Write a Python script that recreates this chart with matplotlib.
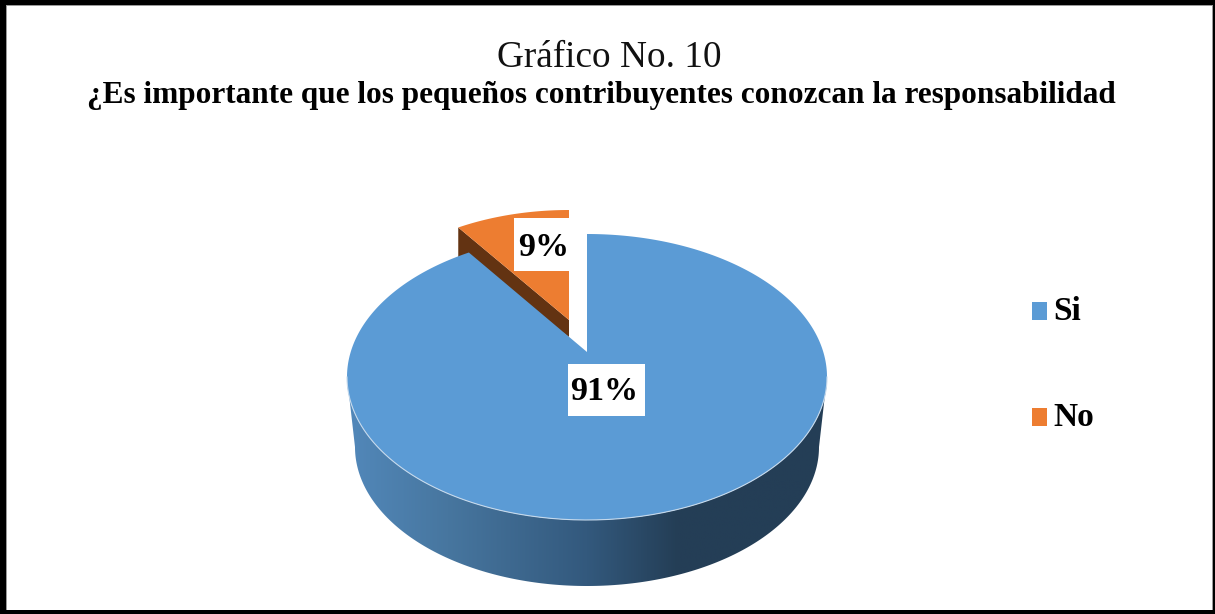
"""
Exploded 3D style pie drawn by hand, matplotlib has no 3D pie.
"""
import matplotlib
matplotlib.use('Agg')
import matplotlib.pyplot as plt
import numpy as np
from matplotlib.colors import LinearSegmentedColormap
from matplotlib.patches import Polygon, Rectangle

categories = ['Si', 'No']
values = [91, 9]
title = 'Gráfico No. 10'
subtitle = '¿Es importante que los pequeños contribuyentes conozcan la responsabilidad'

BLUE = '#5b9bd5'
ORANGE = '#ed7d31'
BROWN = '#633312'
PERSP = 0.91   # the tilt squeezes angles near the back of the pie

plt.rcParams['font.family'] = ['Liberation Serif', 'DejaVu Serif']

fig = plt.figure(figsize=(12.15, 6.14), dpi=100)
ax = fig.add_axes([0, 0, 1, 1])
ax.set_xlim(0, 1215)
ax.set_ylim(614, 0)
ax.axis('off')

# Frame
ax.add_patch(Rectangle((0, 0), 1215, 614, fc='black', ec='none', zorder=0))
ax.add_patch(Rectangle((6, 5), 1207, 605, fc='#9a9a9a', ec='none', zorder=0))
ax.add_patch(Rectangle((7, 6), 1205, 603.5, fc='white', ec='none', zorder=0))

ax.text(609, 58, title, ha='center', va='center', fontsize=26.8, color='#111111', zorder=5)
ax.text(601, 96, subtitle, ha='center', va='center', fontsize=22.5, fontweight='bold',
        color='black', zorder=5)

# Angle of the "No" slice measured from 12 o'clock, going left
no_ang = np.radians(360 * values[1] / sum(values) * PERSP)

# Pie wall, a gradient clipped to the area between top and bottom ellipses
cx, cy, rx, ry = 587, 377, 240, 143
t = np.linspace(-np.pi / 2, np.pi / 2, 200)
top_edge = np.column_stack([cx + rx * np.sin(t), cy + ry * np.cos(t)])
bot_edge = np.column_stack([cx + 232 * np.sin(t), 447 + 139 * np.cos(t)])
wall = Polygon(np.vstack([top_edge, bot_edge[::-1]]), fc='none', ec='none')
ax.add_patch(wall)
wall_cmap = LinearSegmentedColormap.from_list(
    'wall', [(0, '#5288ba'), (0.21, '#47769f'), (0.5, '#33597d'), (0.69, '#243e56'), (1, '#243e56')])
grad = ax.imshow(np.linspace(0, 1, 256).reshape(1, -1), cmap=wall_cmap, aspect='auto',
                 extent=(347, 827, 590, 370), zorder=1)
grad.set_clip_path(wall)
ax.set_xlim(0, 1215)
ax.set_ylim(614, 0)

# Big slice, its apex sits behind the ellipse centre
apex = (587, 352)
t = np.linspace(0, 2 * np.pi - no_ang, 400)
big = np.column_stack([cx + rx * np.sin(t), cy + ry * -np.cos(t)])
ax.add_patch(Polygon(np.vstack([big, apex]), fc=BLUE, ec='none', zorder=2))
ax.plot(top_edge[:, 0], top_edge[:, 1], color='#c5d9ec', lw=0.8, zorder=2.1)

# Small slice pulled out to the upper left
ocx, ocy, orx, ory = 569, 345, 225, 135
t = np.linspace(-no_ang, 0, 80)
arc = np.column_stack([ocx + orx * np.sin(t), ocy - ory * np.cos(t)])
oapex = (ocx, 320)
ax.add_patch(Polygon([arc[0], oapex, (oapex[0], oapex[1] + 17), (arc[0][0], arc[0][1] + 30)],
                     fc=BROWN, ec='none', zorder=1.5))
ax.add_patch(Polygon(np.vstack([arc, oapex]), fc=ORANGE, ec='none', zorder=1.6))

# Data labels on white boxes
ax.add_patch(Rectangle((568, 364), 77, 52, fc='white', ec='none', zorder=5))
ax.add_patch(Rectangle((514, 218), 56, 53, fc='white', ec='none', zorder=5))
ax.text(604, 391, f'{values[0]}%', ha='center', va='center', fontsize=24.5, fontweight='bold',
        color='black', zorder=6)
ax.text(544, 247, f'{values[1]}%', ha='center', va='center', fontsize=24.5, fontweight='bold',
        color='black', zorder=6)

# Legend
for name, col, y in zip(categories, [BLUE, ORANGE], [311, 417]):
    ax.add_patch(Rectangle((1032, y - 9), 15, 18, fc=col, ec='none', zorder=5))
    ax.text(1053, y + 1, name, ha='left', va='center', fontsize=24, fontweight='bold',
            color='black', zorder=5)

fig.savefig('out.png', dpi=100)
